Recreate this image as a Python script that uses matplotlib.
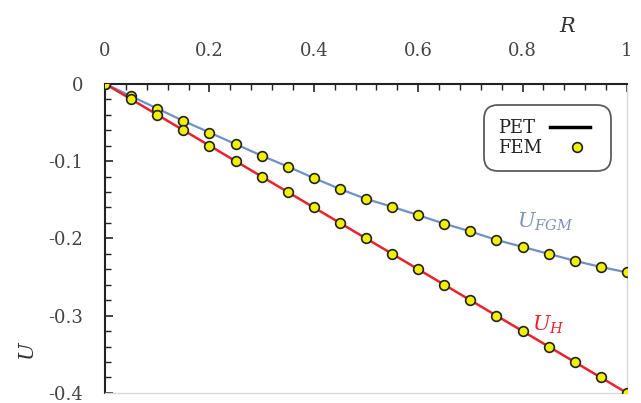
import matplotlib
matplotlib.use("Agg")
import matplotlib.pyplot as plt
from matplotlib.ticker import MultipleLocator
from matplotlib.lines import Line2D

plt.rcParams['font.family'] = ['DejaVu Serif']
plt.rcParams['mathtext.fontset'] = 'dejavuserif'

# datos
r = [0, 0.05, 0.1, 0.15, 0.2, 0.25, 0.3, 0.35, 0.4, 0.45, 0.5,
     0.55, 0.6, 0.65, 0.7, 0.75, 0.8, 0.85, 0.9, 0.95, 1.0]
u_fgm = [0, -0.016, -0.032, -0.048, -0.063, -0.078, -0.093, -0.107, -0.122, -0.136, -0.149,
         -0.159, -0.170, -0.181, -0.191, -0.202, -0.211, -0.220, -0.229, -0.237, -0.244]
u_h = [0, -0.02, -0.04, -0.06, -0.08, -0.10, -0.12, -0.14, -0.16, -0.18, -0.20,
       -0.22, -0.24, -0.26, -0.28, -0.30, -0.32, -0.34, -0.36, -0.38, -0.40]
x_ticks = [0, 0.2, 0.4, 0.6, 0.8, 1]
x_labels = ["0", "0.2", "0.4", "0.6", "0.8", "1"]
y_ticks = [0, -0.1, -0.2, -0.3, -0.4]
y_labels = ["0", "-0.1", "-0.2", "-0.3", "-0.4"]

fig = plt.figure(figsize=(6.41, 4.03), dpi=100)
ax = fig.add_axes([0.164, 0.025, 0.814, 0.767])

blue = '#6f8fc8'
red = '#e8232b'
ax.plot(r, u_fgm, color=blue, lw=1.6, zorder=2)
ax.plot(r, u_h, color=red, lw=1.8, zorder=2)
ax.plot(r, u_fgm, 'o', ms=7, mfc='#f0f000', mec='#222222', mew=1.2, zorder=3)
ax.plot(r, u_h, 'o', ms=7, mfc='#f0f000', mec='#222222', mew=1.2, zorder=3)

ax.set_xlim(0, 1)
ax.set_ylim(-0.4, 0)
ax.xaxis.tick_top()
ax.set_xticks(x_ticks)
ax.set_xticklabels(x_labels)
ax.set_yticks(y_ticks)
ax.set_yticklabels(y_labels)
ax.xaxis.set_minor_locator(MultipleLocator(0.04))
ax.yaxis.set_minor_locator(MultipleLocator(0.02))
ax.tick_params(axis='x', which='major', direction='in', length=6, width=1.2,
               pad=17, labelsize=13, colors='#222222', labelcolor='#444444')
ax.tick_params(axis='x', which='minor', direction='in', length=4, width=1.0, colors='#222222')
ax.tick_params(axis='y', which='major', direction='in', length=6, width=1.2,
               pad=16, labelsize=13, colors='#222222', labelcolor='#444444')
ax.tick_params(axis='y', which='minor', direction='in', length=4, width=1.0, colors='#222222')

for s in ['top', 'left']:
    ax.spines[s].set_linewidth(1.5)
    ax.spines[s].set_color('#222222')
for s in ['bottom', 'right']:
    ax.spines[s].set_linewidth(1.0)
    ax.spines[s].set_color('#d9d9d9')

fig.text(0.886, 0.935, "$R$", fontsize=15, color='#333333', ha='center', va='center')
fig.text(0.045, 0.13, "$U$", fontsize=15, color='#333333', ha='center', va='center', rotation=90)

ax.text(0.843, -0.179, "$U_{FGM}$", color='#8090b8', fontsize=15, ha='center', va='center')
ax.text(0.85, -0.312, "$U_{H}$", color=red, fontsize=15, ha='center', va='center')

handles = [Line2D([0], [0], color='black', lw=2.5),
           Line2D([0], [0], ls='none', marker='o', ms=7, mfc='#f0f000', mec='#222222', mew=1.2)]
leg = ax.legend(handles, ["PET", "FEM"], loc='upper right', bbox_to_anchor=(0.98, 0.95),
                fontsize=13, frameon=True, fancybox=True, edgecolor='#333333',
                handlelength=2.2, labelspacing=0.1, borderpad=0.6, markerfirst=False,
                handletextpad=0.8, labelcolor='#222222')
for col in leg._legend_handle_box.get_children():
    col.align = 'left'
leg.get_frame().set_linewidth(1.3)
leg.get_frame().set_boxstyle('round,pad=0.2,rounding_size=0.8')

fig.savefig("out.png", dpi=100)
